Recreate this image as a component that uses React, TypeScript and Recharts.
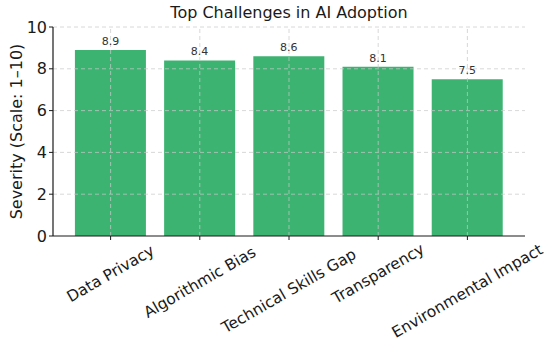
import React from "react";
import { BarChart, Bar, XAxis, YAxis, ReferenceLine, LabelList } from "recharts";

const categories = ["Data Privacy", "Algorithmic Bias", "Technical Skills Gap", "Transparency", "Environmental Impact"];
const severity = [8.9, 8.4, 8.6, 8.1, 7.5];
const yTicks = [0, 2, 4, 6, 8, 10];

const data = categories.map((name, i) => ({ name, value: severity[i] }));

const FONT = "'DejaVu Sans', sans-serif";
const GRID = { stroke: "#c8c8c8", strokeDasharray: "4 3", strokeOpacity: 0.8, strokeWidth: 0.9 };

const XTick = (props: any) => {
  const { x, y, payload } = props;
  const text: string = payload.value;
  const fs = 15.5;
  const w = text.length * fs * 0.56;
  const bboxH = w * 0.5 + fs * 0.866;
  const cy = y - 1 + bboxH / 2;
  return (
    <text
      x={x}
      y={cy}
      textAnchor="middle"
      dominantBaseline="central"
      transform={`rotate(-30, ${x}, ${cy})`}
      fontSize={fs}
      fontFamily={FONT}
      fill="#1a1a1a"
    >
      {text}
    </text>
  );
};

const YLabel = (props: any) => {
  const vb = props.viewBox || {};
  const cy = (vb.y ?? 27) + (vb.height ?? 209) / 2;
  const cx = 16;
  return (
    <text
      x={cx}
      y={cy}
      textAnchor="middle"
      dominantBaseline="central"
      transform={`rotate(-90, ${cx}, ${cy})`}
      fontSize={16}
      fontFamily={FONT}
      fill="#1a1a1a"
    >
      Severity (Scale: 1–10)
    </text>
  );
};

export default function App() {
  return (
    <div style={{ position: "absolute", left: 0, top: 0, width: 550, height: 345, background: "#fff" }}>
      <div
        style={{
          position: "absolute",
          left: 53,
          width: 472,
          top: 3,
          textAlign: "center",
          fontFamily: FONT,
          fontSize: 16,
          color: "#1a1a1a",
          lineHeight: "20px",
        }}
      >
        Top Challenges in AI Adoption
      </div>
      <BarChart
        width={550}
        height={345}
        data={data}
        margin={{ top: 27, right: 25, bottom: 0, left: 0 }}
        barCategoryGap="10%"
      >
        <XAxis
          dataKey="name"
          height={109}
          interval={0}
          padding={{ left: 13, right: 13 }}
          tick={<XTick />}
          tickSize={4}
          axisLine={{ stroke: "#1a1a1a", strokeWidth: 1.2 }}
          tickLine={{ stroke: "#1a1a1a" }}
        />
        <YAxis
          width={53}
          domain={[0, 10]}
          ticks={yTicks}
          tickSize={4}
          tick={{ fontSize: 16, fontFamily: FONT, fill: "#1a1a1a" }}
          axisLine={{ stroke: "#1a1a1a", strokeWidth: 1.2 }}
          tickLine={{ stroke: "#1a1a1a" }}
          label={<YLabel />}
        />
        <Bar dataKey="value" fill="#3CB371" isAnimationActive={false}>
          <LabelList dataKey="value" position="top" offset={5} fontSize={11} fontFamily={FONT} fill="#333" />
        </Bar>
        {yTicks.filter((t) => t !== 0).map((t) => (
          <ReferenceLine key={"y" + t} y={t} {...GRID} />
        ))}
        {categories.map((c) => (
          <ReferenceLine key={"x" + c} x={c} {...GRID} />
        ))}
      </BarChart>
    </div>
  );
}
